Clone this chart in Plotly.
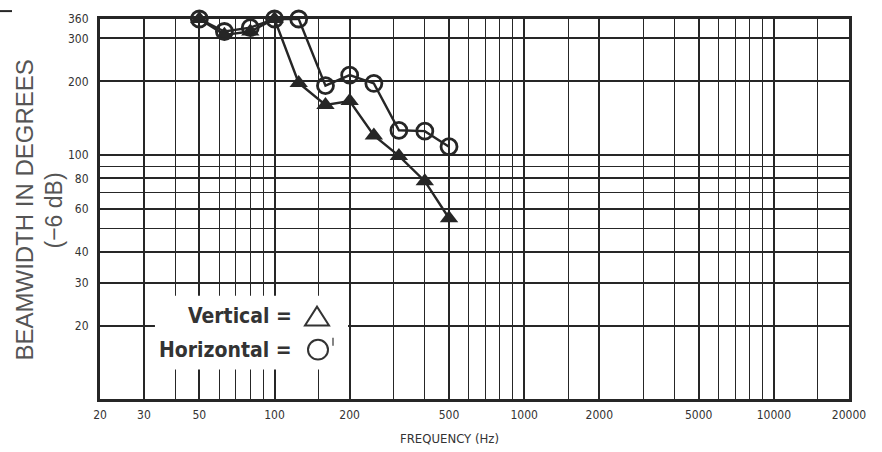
import math
import plotly.graph_objects as go

# ---- data ----
freq_hz = [50, 63, 80, 100, 125, 160, 200, 250, 315, 400, 500]
horizontal_deg = [360, 320, 332, 360, 360, 192, 212, 196, 126, 125, 108]
vertical_deg = [360, 310, 320, 360, 197, 160, 166, 120, 99, 78, 55]

x_tick_vals = [20, 30, 50, 100, 200, 500, 1000, 2000, 5000, 10000, 20000]
x_minor_vals = [40, 60, 70, 80, 90, 150, 300, 400, 600, 700, 800, 900, 1500,
                3000, 4000, 6000, 7000, 8000, 9000, 15000]
y_tick_vals = [20, 30, 40, 60, 80, 100, 200, 300, 360]
y_minor_vals = [50, 70, 90]

INK = "#262626"
NARROW = "DejaVu Sans Condensed, Liberation Sans Narrow, Arial Narrow, Liberation Sans, sans-serif"

# plot area in pixels
L, R, T, B = 100, 849, 14, 399
W, H = 882, 452

def px_x(p):
    return (p - L) / (R - L)

def px_y(p):
    return (B - p) / (B - T)

fig = go.Figure()
fig.add_trace(go.Scatter(
    x=freq_hz, y=vertical_deg, mode="lines+markers", name="Vertical",
    line=dict(color=INK, width=2.4),
    marker=dict(symbol="triangle-up", size=16, color=INK),
    cliponaxis=False, showlegend=False))
fig.add_trace(go.Scatter(
    x=freq_hz, y=horizontal_deg, mode="lines+markers", name="Horizontal",
    line=dict(color=INK, width=2.4),
    marker=dict(symbol="circle-open", size=16, color=INK, line=dict(width=2.8, color=INK)),
    cliponaxis=False, showlegend=False))

fig.update_xaxes(
    type="log", range=[math.log10(20), math.log10(20000)],
    tickmode="array", tickvals=x_tick_vals, ticktext=[str(v) for v in x_tick_vals],
    showgrid=True, gridcolor=INK, gridwidth=2,
    minor=dict(tickmode="array", tickvals=x_minor_vals, showgrid=True,
               gridcolor=INK, gridwidth=1.2, ticks=""),
    ticks="", ticklabelstandoff=3,
    tickfont=dict(family=NARROW, size=12, color="#333"),
    showline=True, linecolor=INK, linewidth=3, mirror=True, zeroline=False)
fig.update_yaxes(
    type="log", range=[1, math.log10(360)],
    tickmode="array", tickvals=y_tick_vals, ticktext=[str(v) for v in y_tick_vals],
    showgrid=True, gridcolor=INK, gridwidth=1.8,
    minor=dict(tickmode="array", tickvals=y_minor_vals, showgrid=True,
               gridcolor=INK, gridwidth=1.4, ticks=""),
    ticks="", ticklabelstandoff=6,
    tickfont=dict(family=NARROW, size=12, color="#333"),
    showline=True, linecolor=INK, linewidth=3, mirror=True, zeroline=False)

# white legend box hiding the grid
fig.add_shape(type="rect", xref="x", yref="y", x0=33.2, x1=197, y0=13.2, y1=26.5,
              fillcolor="white", line=dict(width=0), layer="between")

# stray dash at top-left
fig.add_shape(type="line", xref="paper", yref="paper",
              x0=px_x(0), x1=px_x(12), y0=px_y(6), y1=px_y(6),
              line=dict(color=INK, width=2))

# legend glyphs (triangle and circle outlines)
tx, ty, tw, th = 317, 315, 24, 19
fig.add_shape(type="path", xref="paper", yref="paper",
              path=(f"M {px_x(tx - tw / 2)} {px_y(ty + th / 2)} "
                    f"L {px_x(tx + tw / 2)} {px_y(ty + th / 2)} "
                    f"L {px_x(tx)} {px_y(ty - th / 2)} Z"),
              line=dict(color="#333", width=2))
cx, cy, cr = 318, 349, 10
fig.add_shape(type="circle", xref="paper", yref="paper",
              x0=px_x(cx - cr), x1=px_x(cx + cr), y0=px_y(cy + cr), y1=px_y(cy - cr),
              line=dict(color="#333", width=2))
fig.add_shape(type="line", xref="paper", yref="paper",
              x0=px_x(333), x1=px_x(333), y0=px_y(337), y1=px_y(345),
              line=dict(color="#333", width=1.2))

anns = []
# legend text
anns.append(dict(xref="paper", yref="paper", x=px_x(294), y=px_y(315),
                 xanchor="right", yanchor="middle", showarrow=False,
                 text="<b>Vertical =</b>",
                 font=dict(family=NARROW, size=21, color="#333")))
anns.append(dict(xref="paper", yref="paper", x=px_x(294), y=px_y(349),
                 xanchor="right", yanchor="middle", showarrow=False,
                 text="<b>Horizontal =</b>",
                 font=dict(family=NARROW, size=21, color="#333")))
# axis titles
anns.append(dict(xref="paper", yref="paper", x=px_x(24), y=px_y(208),
                 xanchor="center", yanchor="middle", showarrow=False, textangle=-90,
                 text="BEAMWIDTH IN DEGREES",
                 font=dict(family="Liberation Sans, Arial, sans-serif", size=24, color="#555")))
anns.append(dict(xref="paper", yref="paper", x=px_x(54), y=px_y(208),
                 xanchor="center", yanchor="middle", showarrow=False, textangle=-90,
                 text="(−6 dB)",
                 font=dict(family="Liberation Sans, Arial, sans-serif", size=23, color="#555")))
anns.append(dict(xref="paper", yref="paper", x=px_x(449), y=px_y(439),
                 xanchor="center", yanchor="middle", showarrow=False,
                 text="FREQUENCY (Hz)",
                 font=dict(family=NARROW, size=13, color="#333")))

fig.update_layout(
    width=W, height=H,
    margin=dict(l=L, r=W - R, t=T, b=H - B),
    paper_bgcolor="white", plot_bgcolor="white",
    annotations=anns, showlegend=False)

fig.write_html("out.html", config={"displayModeBar": False},
               post_script="document.body.style.margin='0';document.body.style.padding='0';")
